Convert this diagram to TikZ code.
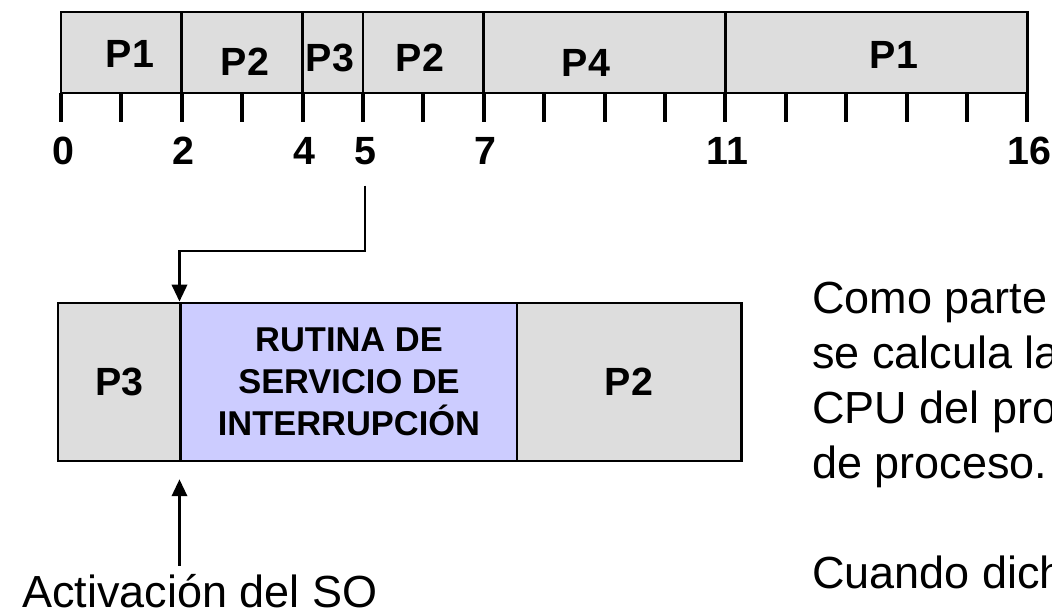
\documentclass[tikz,border=0pt]{standalone}
\usepackage{fontspec}
\setmainfont{Liberation Sans}
\usetikzlibrary{arrows.meta}
\definecolor{grisproc}{RGB}{221,221,221}
\definecolor{azulisr}{RGB}{204,204,255}
\begin{document}
\begin{tikzpicture}[x=0.025cm, y=-0.025cm,
    seg/.style={draw=black, line width=2.1pt, fill=grisproc},
    pnom/.style={font=\fontsize{28}{30}\selectfont\bfseries, inner sep=0pt},
    tnum/.style={font=\fontsize{28}{30}\selectfont\bfseries, inner sep=0pt, anchor=base},
    conn/.style={line width=1.5pt, -{Triangle[length=12pt, width=11pt]}}]
  \useasboundingbox (0,0) rectangle (1052,610);
  \clip (0,0) rectangle (1052,610);
  \foreach \ta/\tb/\px/\py/\pn in {0/2/130/54/P1, 2/4/245/62/P2, 4/5/330/58/P3,
    5/7/420/58/P2, 7/11/586/63/P4, 11/16/894/55/P1}
  {
    \draw[seg] ({61+60.4*\ta},12) rectangle ({61+60.4*\tb},93);
    \node[pnom] (b\ta) at (\px,\py) {\pn};
  }
  \foreach \t in {0,...,16}
    \draw[line width=2.8pt] ({61+60.4*\t},93) -- ++(0,29);
  \foreach \t in {0,2,4,5,7,11,16}
    \node[tnum] (t\t) at ({63+60.4*\t},165) {\t};
  \node[seg, pnom, minimum width=3.075cm, minimum height=3.95cm] (lp3) at (119.5,382) {P3};
  \node[seg, fill=azulisr, minimum width=8.4cm, minimum height=3.95cm, align=center,
    font=\fontsize{24.5}{29.9}\selectfont\bfseries] (isr) at (349,382)
    {RUTINA DE\\SERVICIO DE\\INTERRUPCIÓN};
  \node[seg, pnom, minimum width=5.6cm, minimum height=3.95cm] (lp2) at (629,382) {P2};
  \draw[conn] (t5.south) ++(0,20) -- ++(0,65) -| (isr.north west);
  \node[anchor=base, inner sep=0pt, font=\fontsize{32}{38}\selectfont] (actso) at (200,607)
    {Activación del SO};
  \draw[conn] (isr.south west |- actso.north) ++(0,-8) -- ([yshift=-12pt]isr.south west);
  \node[anchor=base west, align=left, inner sep=0pt, font=\fontsize{32}{39.1}\selectfont]
    (nota) at (812,588)
    {Como parte\\se calcula la\\CPU del pro\\de proceso.\\[39.1pt]Cuando dich};
\end{tikzpicture}
\end{document}
